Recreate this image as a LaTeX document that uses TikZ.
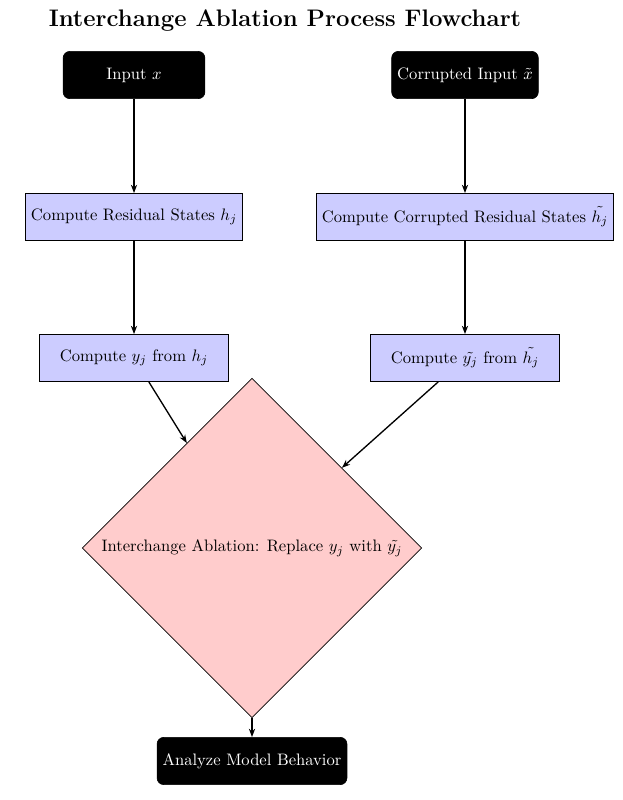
\documentclass[tikz,border=0pt]{standalone}
\usetikzlibrary{shapes.geometric,arrows.meta}
\tikzset{
	startstop/.style={rectangle, rounded corners, fill=black, text=white, draw=black, minimum width=3cm, minimum height=1cm},
	process/.style={rectangle, fill=blue!20, draw=black, minimum width=4cm, minimum height=1cm},
	decision/.style={diamond, fill=red!20, draw=black},
	arrow/.style={-{Stealth[length=5pt]}, thick}
}
\begin{document}
\begin{tikzpicture}
\useasboundingbox (0,0) rectangle (13.168,-16.936);
% Titel
\node (title) at (6.033,-0.44) {\Large\bfseries Interchange Ablation Process Flowchart};

% Linker Zweig
\node[startstop] (inp) at (2.837,-1.588) {Input $x$};
\node[process] (res) at (2.837,-4.594) {Compute Residual States $h_j$};
\node[process] (yj) at (2.837,-7.579) {Compute $y_j$ from $h_j$};

% Rechter Zweig
\node[startstop] (cinp) at (9.844,-1.588) {Corrupted Input $\tilde{x}$};
\node[process] (cres) at (9.844,-4.594) {Compute Corrupted Residual States $\tilde{h_j}$};
\node[process] (cyj) at (9.844,-7.579) {Compute $\tilde{y_j}$ from $\tilde{h_j}$};

% Ablation und Ergebnis
\node[decision] (abl) at (5.335,-11.601) {Interchange Ablation: Replace $y_j$ with $\tilde{y_j}$};
\node[startstop, minimum width=4cm] (ana) at (5.335,-16.110) {Analyze Model Behavior};

% Pfeile
\draw[arrow] (inp) -- (res);
\draw[arrow] (res) -- (yj);
\draw[arrow] (cinp) -- (cres);
\draw[arrow] (cres) -- (cyj);
\draw[arrow] (yj) -- (abl);
\draw[arrow] (cyj) -- (abl);
\draw[arrow] (abl) -- (ana);
\end{tikzpicture}
\end{document}
